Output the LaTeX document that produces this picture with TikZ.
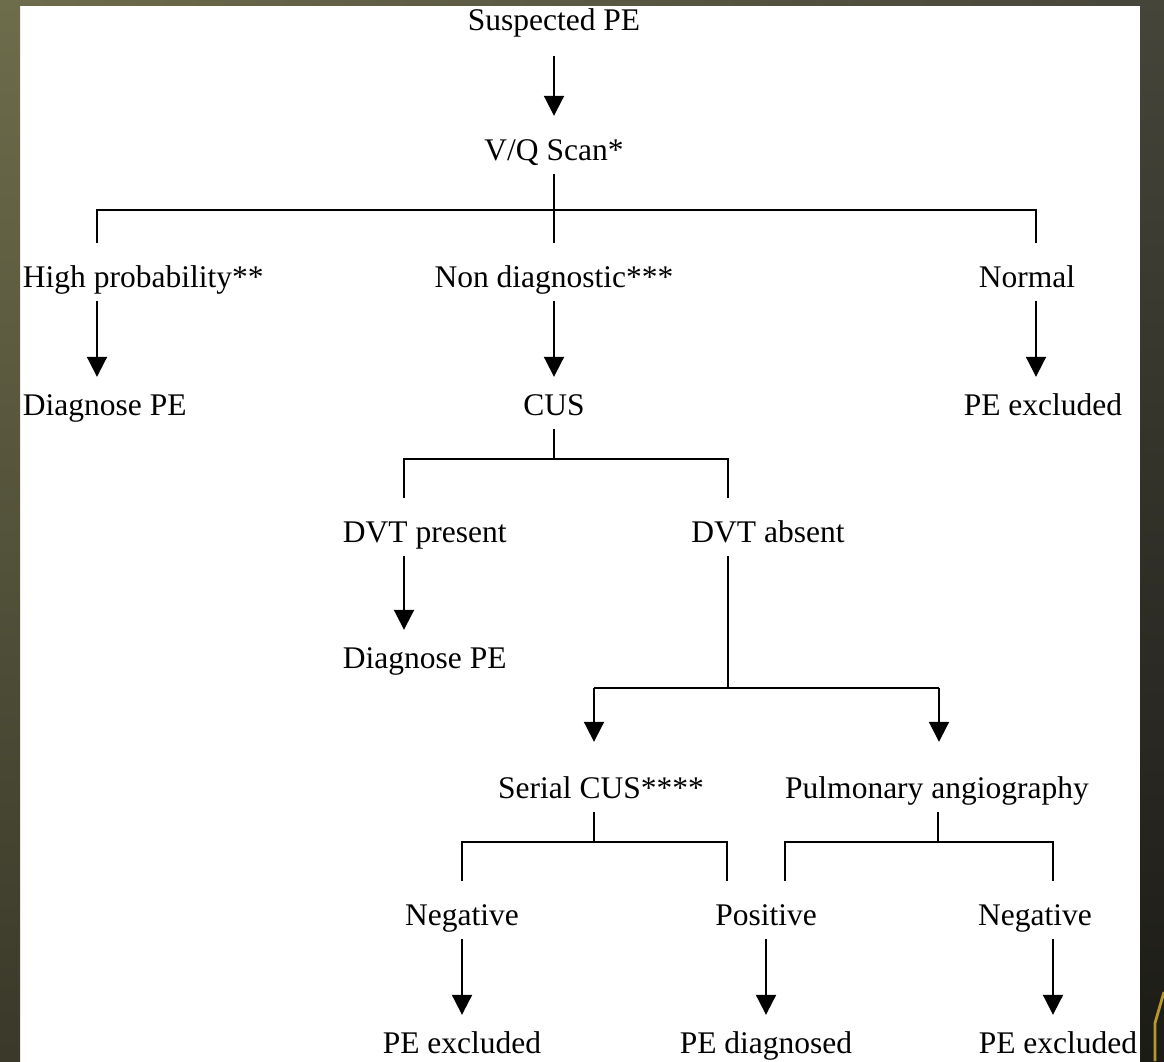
\documentclass[tikz,border=0pt]{standalone}
\usepackage{fontspec}
\setmainfont{Liberation Serif}
\usetikzlibrary{arrows.meta}
\definecolor{frameolive}{HTML}{6D6C4B}
\definecolor{framedeep}{HTML}{3A392A}
\definecolor{framedark}{HTML}{46453A}
\definecolor{frameblack}{HTML}{1C1C16}
\definecolor{framegold}{HTML}{B8982E}

\begin{document}
\begin{tikzpicture}[x=0.025cm, y=-0.025cm, line width=1.4pt]
	\tikzstyle{lbl} = [anchor=base, inner xsep=0pt, inner ysep=0.33cm, text height=0.75cm, text depth=0pt, font=\fontsize{22.4}{27}\selectfont]
	\tikzstyle{low} = [lbl, text height=0.6cm]
	\tikzstyle{arrow} = [draw, -{Triangle[width=0.5cm,length=0.5cm]}]
	\useasboundingbox (0,0) rectangle (1164,1061);
	% frame
	\fill[white] (0,0) rectangle (1164,1061);
	\fill[left color=frameolive, right color=framedark] (0,0) rectangle (1164,5);
	\fill[top color=frameolive, bottom color=framedeep] (0,0) rectangle (20,1061);
	\fill[top color=framedark, bottom color=frameblack] (1140,0) rectangle (1164,1061);
	\draw[framegold, line width=0.07cm] (1155,1061) -- (1155,1023) -- (1164,992);
	% row 1
	\node [lbl, text depth=0.3cm] (susp) at (554,30) {Suspected PE};
	% row 2
	\node [lbl] (vq) at (554,160) {V/Q Scan*};
	% row 3
	\node [lbl, anchor=base west] (high) at (22,287) {High probability**};
	\node [lbl] (nondiag) at (554,287) {Non diagnostic***};
	\node [lbl] (normal) at (1027,287) {Normal};
	% row 4
	\node [low, anchor=base west] (diag1) at (22,415) {Diagnose PE};
	\node [low] (cus) at (554,415) {CUS};
	\node [low] (excl1) at (1043,415) {PE excluded};
	% row 5
	\node [lbl, anchor=base west] (dvtp) at (342,542) {DVT present};
	\node [lbl] (dvta) at (768,542) {DVT absent};
	% row 6
	\node [low, anchor=base west] (diag2) at (342,668) {Diagnose PE};
	% row 7
	\node [lbl, text height=1.05cm] (serial) at (601,798) {Serial CUS****};
	\node [lbl, text height=1.05cm] (pulm) at (937,798) {Pulmonary angiography};
	% row 8
	\node [lbl] (neg1) at (462,925) {Negative};
	\node [lbl] (pos) at (766,925) {Positive};
	\node [lbl] (neg2) at (1035,925) {Negative};
	% row 9
	\node [low] (excl2) at (462,1053) {PE excluded};
	\node [low] (diagd) at (766,1053) {PE diagnosed};
	\node [low] (excl3) at (1058,1053) {PE excluded};
	% junctions
	\coordinate (j1) at (554,210);
	\coordinate (j1l) at (97,210);
	\coordinate (j1r) at (1036,210);
	\coordinate (j2) at (554,459);
	\coordinate (j2l) at (404,459);
	\coordinate (j2r) at (728,459);
	\coordinate (j3) at (728,688);
	\coordinate (j3l) at (594,688);
	\coordinate (j3r) at (939,688);
	\coordinate (j4) at (594,842);
	\coordinate (j4l) at (462,842);
	\coordinate (j4r) at (727,842);
	\coordinate (j5) at (938,842);
	\coordinate (j5l) at (785,842);
	\coordinate (j5r) at (1053,842);
	% connectors
	\path [arrow] (susp) -- (vq);
	\draw (vq) -- (j1);
	\draw (j1l |- high.north) -- (j1l) -- (j1r) -- (j1r |- normal.north);
	\draw (j1) -- (nondiag);
	\path [arrow] (high.south -| j1l) -- (diag1.north -| j1l);
	\path [arrow] (nondiag) -- (cus);
	\path [arrow] (normal.south -| j1r) -- (excl1.north -| j1r);
	\draw (cus) -- (j2);
	\draw (j2l |- dvtp.north) -- (j2l) -- (j2r) -- (j2r |- dvta.north);
	\path [arrow] (dvtp.south -| j2l) -- (diag2.north -| j2l);
	\draw (dvta.south -| j3) -- (j3);
	\draw (j3l) -- (j3r);
	\path [arrow] (j3l) -- (j3l |- serial.north);
	\path [arrow] (j3r) -- (j3r |- pulm.north);
	\draw (serial.south -| j4) -- (j4);
	\draw (j4l |- neg1.north) -- (j4l) -- (j4r) -- (j4r |- pos.north);
	\draw (pulm.south -| j5) -- (j5);
	\draw (j5l |- pos.north) -- (j5l) -- (j5r) -- (j5r |- neg2.north);
	\path [arrow] (neg1) -- (excl2);
	\path [arrow] (pos) -- (diagd);
	\path [arrow] (neg2.south -| j5r) -- (excl3.north -| j5r);
\end{tikzpicture}
\end{document}
